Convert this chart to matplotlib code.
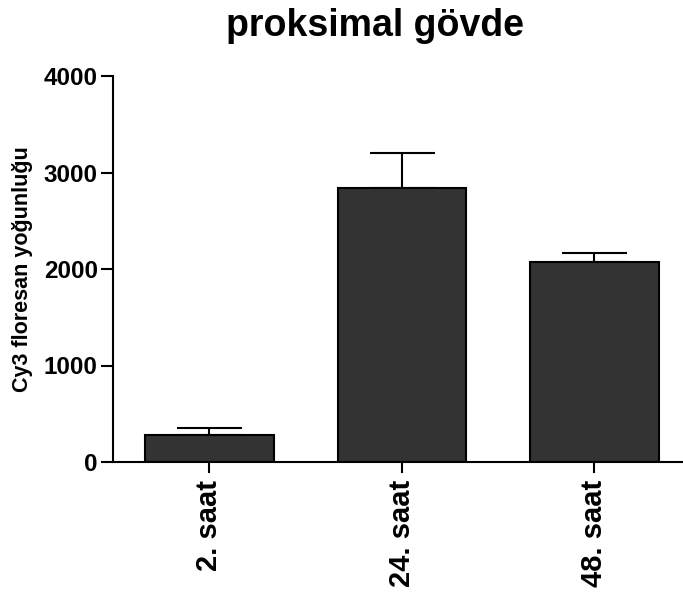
import matplotlib
matplotlib.use("Agg")
import matplotlib.pyplot as plt

plt.rcParams['font.family'] = ['Liberation Sans', 'DejaVu Sans']
plt.rcParams['font.weight'] = 'bold'

groups = ["2. saat", "24. saat", "48. saat"]
means = [276, 2843, 2070]
errors = [76, 363, 94]
yticks = [0, 1000, 2000, 3000, 4000]

fig = plt.figure(figsize=(6.83, 5.96), dpi=100)
ax = fig.add_axes([113/683, 134/596, 570/683, 386/596])

x = list(range(len(groups)))
ax.bar(x, means, width=0.667, color="#333333", edgecolor="black", linewidth=1.5, zorder=2)
ax.errorbar(x, means, yerr=[[0]*len(errors), errors], fmt="none", ecolor="black",
            elinewidth=1.5, capsize=23.4, capthick=1.5, zorder=1)

ax.set_xlim(-0.5, 2.46)
ax.set_ylim(0, 4000)
ax.set_yticks(yticks)
ax.set_yticklabels([str(v) for v in yticks], fontsize=17.5, fontweight="bold")
ax.set_xticks(x)
ax.set_xticklabels(groups, rotation=90, fontsize=21, fontweight="bold")
ax.tick_params(axis="y", length=9, width=1.5, pad=2)
ax.tick_params(axis="x", length=8, width=1.5, pad=5)
for s in ["top", "right"]:
    ax.spines[s].set_visible(False)
for s in ["left", "bottom"]:
    ax.spines[s].set_linewidth(1.5)

ax.set_ylabel("Cy3 floresan yoğunluğu", fontsize=15.5, fontweight="bold")
ax.yaxis.set_label_coords(-0.14, 0.5)
fig.text(375/683, 1 - 26/596, "proksimal gövde", ha="center", va="center",
         fontsize=27, fontweight="bold")

fig.savefig("out.png", dpi=100)
